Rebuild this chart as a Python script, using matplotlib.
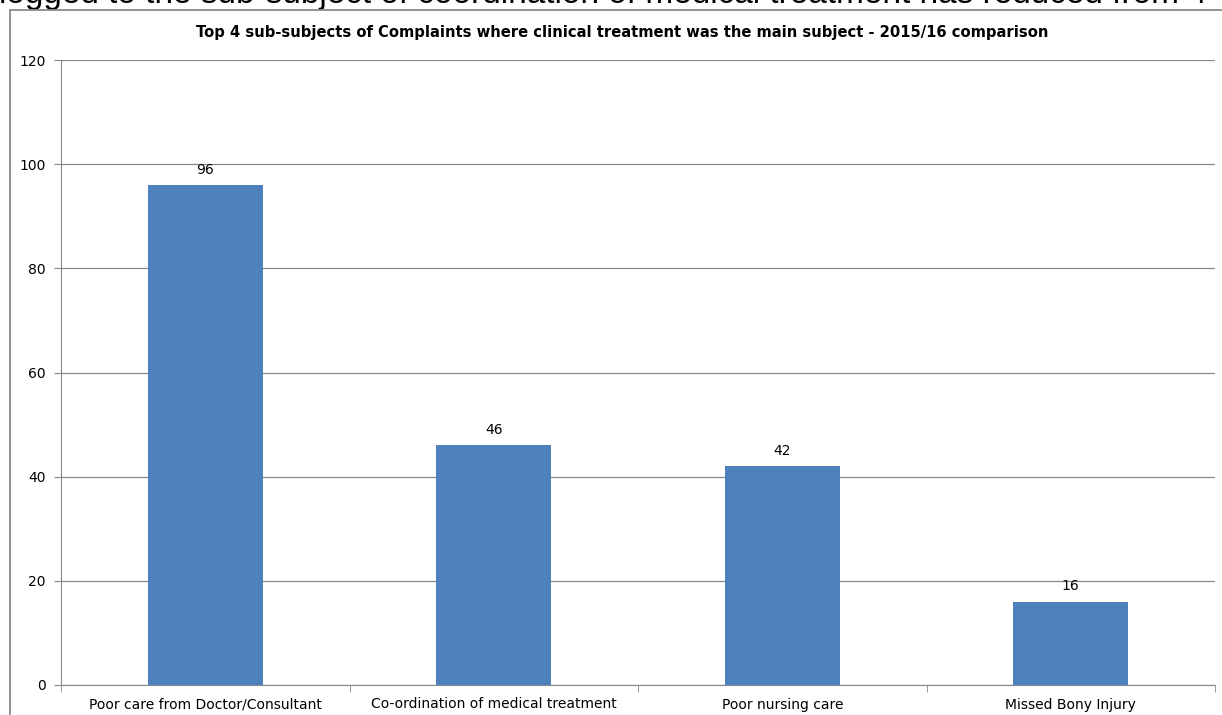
import matplotlib
matplotlib.use("Agg")
import matplotlib.pyplot as plt
from matplotlib.patches import Rectangle

categories = ["Poor care from Doctor/Consultant", "Co-ordination of medical treatment",
              "Poor nursing care", "Missed Bony Injury"]
values = [96, 46, 42, 16]
yticks = [0, 20, 40, 60, 80, 100, 120]
title = "Top 4 sub-subjects of Complaints where clinical treatment was the main subject - 2015/16 comparison"
header_text = "logged to the sub-subject of coordination of medical treatment has reduced from 4"

W, H = 1222, 715
fig = plt.figure(figsize=(W / 100, H / 100), dpi=100)
fig.patch.set_facecolor("white")

# chart border (right and bottom edges lie outside the picture)
fig.patches.append(Rectangle((9.5 / W, -0.01), (1240 - 9.5) / W, (H - 9.5) / H + 0.01,
                             transform=fig.transFigure, fill=False,
                             edgecolor="#8a8a8a", linewidth=1.3, zorder=5))

# clipped header text from the surrounding document
fig.text(-0.001, 1 - 3.5 / H, header_text, fontsize=24, family="Liberation Sans",
         va="baseline", ha="left", color="black")

ax = fig.add_axes([61 / W, 1 - 685 / H, (1215 - 61) / W, (685 - 60) / H])
x = list(range(len(categories)))
bars = ax.bar(x, values, width=0.4, color="#4F81BD", zorder=3)
ax.set_xlim(-0.5, len(categories) - 0.5)
ax.set_ylim(0, 120)
ax.set_yticks(yticks)
ax.set_yticklabels([str(v) for v in yticks], fontsize=10, family="DejaVu Sans")
ax.set_xticks(x)
ax.set_xticklabels(categories, fontsize=10, family="DejaVu Sans")
ax.set_xticks([i + 0.5 for i in range(-1, len(categories))], minor=True)
ax.tick_params(axis="x", which="major", length=0, pad=9)
ax.tick_params(axis="x", which="minor", length=5, color="#888888")
ax.tick_params(axis="y", length=5, color="#888888", pad=6)
ax.grid(axis="y", color="#888888", linewidth=0.9, zorder=0)
for s in ["top", "right"]:
    ax.spines[s].set_visible(False)
for s in ["left", "bottom"]:
    ax.spines[s].set_color("#888888")

for b, v in zip(bars, values):
    ax.annotate(str(v), (b.get_x() + b.get_width() / 2, v), xytext=(0, 6),
                textcoords="offset points", ha="center", va="bottom", fontsize=10)

fig.text((197 + 1047) / 2 / W, 1 - 32 / H, title, ha="center", va="center",
         fontsize=10.6, fontweight="bold", family="DejaVu Sans")

fig.savefig("out.png", dpi=100)
